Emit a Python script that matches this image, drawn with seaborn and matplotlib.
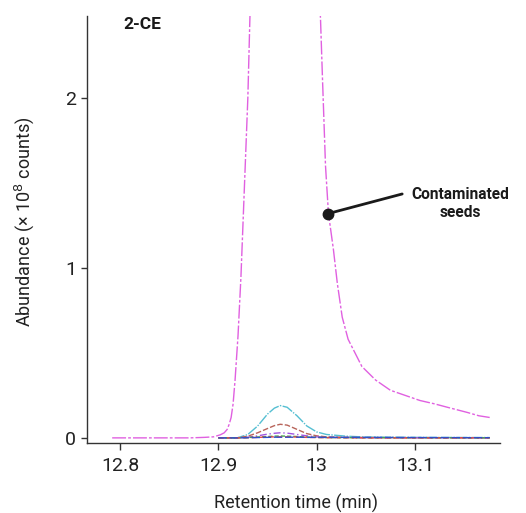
import numpy as np
import pandas as pd
import matplotlib
matplotlib.use("Agg")
import matplotlib.pyplot as plt
import seaborn as sns

# ---- data (retention time in min, abundance in 1e8 counts) ----
mag_x = [12.792, 12.871, 12.886, 12.895, 12.902, 12.906, 12.909, 12.911, 12.913,
         12.915, 12.917, 12.920, 12.923,
         12.926, 12.930, 12.932, 12.945, 12.96, 12.975, 12.99, 13.004, 13.006,
         13.009, 13.012, 13.017, 13.021, 13.026, 13.032, 13.046, 13.060, 13.075,
         13.090, 13.105, 13.120, 13.133, 13.153, 13.165, 13.176]
mag_y = [0.0, 0.0, 0.003, 0.006, 0.018, 0.03, 0.05, 0.08, 0.12,
         0.2, 0.34, 0.6, 0.95,
         1.4, 2.0, 2.45, 5.0, 6.5, 6.0, 4.5, 2.45, 2.1,
         1.6, 1.32, 1.11, 0.91, 0.71, 0.58, 0.42, 0.34, 0.28,
         0.25, 0.22, 0.20, 0.18, 0.15, 0.13, 0.12]

sm_x = [12.90, 12.919, 12.93, 12.94, 12.95, 12.957, 12.963, 12.97, 12.98, 12.99,
        13.00, 13.01, 13.03, 13.05, 13.10, 13.176]
cyan_y = [0.0, 0.0, 0.02, 0.07, 0.14, 0.175, 0.19, 0.18, 0.13, 0.07,
          0.035, 0.02, 0.01, 0.005, 0.003, 0.002]
brown_y = [0.0, 0.0, 0.01, 0.03, 0.055, 0.072, 0.08, 0.075, 0.05, 0.025,
           0.012, 0.006, 0.003, 0.002, 0.001, 0.001]
purple_y = [0.0, 0.0, 0.004, 0.012, 0.022, 0.027, 0.03, 0.028, 0.02, 0.012,
            0.006, 0.003, 0.002, 0.001, 0.001, 0.001]
green_y = [0.0, 0.0, 0.002, 0.005, 0.008, 0.01, 0.011, 0.01, 0.008, 0.005,
           0.003, 0.002, 0.001, 0.001, 0.001, 0.0]
red_y = [0.0, 0.0, 0.001, 0.003, 0.005, 0.006, 0.006, 0.006, 0.005, 0.003,
         0.002, 0.001, 0.001, 0.0, 0.0, 0.0]
blue_y = [0.0, 0.0, 0.001, 0.002, 0.003, 0.004, 0.004, 0.004, 0.004, 0.003,
          0.003, 0.003, 0.003, 0.003, 0.002, 0.001]

series = [
    ("Contaminated seeds", mag_x, mag_y, "#e060e0"),
    ("s2", sm_x, cyan_y, "#55bfd2"),
    ("s3", sm_x, brown_y, "#b8645a"),
    ("s4", sm_x, purple_y, "#a055e0"),
    ("s5", sm_x, green_y, "#3fa84a"),
    ("s6", sm_x, red_y, "#e04848"),
    ("s7", sm_x, blue_y, "#3050c8"),
]

x_ticks = [12.8, 12.9, 13.0, 13.1]
x_labels = ["12.8", "12.9", "13", "13.1"]
y_ticks = [0, 1, 2]
y_labels = ["0", "1", "2"]

sns.set_style("ticks")
plt.rcParams['font.family'] = ['Roboto', 'DejaVu Sans']

fig = plt.figure(figsize=(5.26, 5.13), dpi=100)
ax = fig.add_axes([0.1654, 0.1365, 0.7852, 0.8323])

dash_styles = [(10, 1.5, 2, 1.5), (8, 1, 1, 1), (4, 1.5), (5, 2, 1, 2), (3, 1.5), (4, 2), (6, 2)]
for i, (name, xs, ys, col) in enumerate(series):
    df = pd.DataFrame({"t": xs, "a": ys})
    sns.lineplot(data=df, x="t", y="a", color=col, ax=ax, linewidth=1.0,
                 dashes=False, legend=False)
    ax.lines[-1].set_dashes(dash_styles[i])

ax.set_xlim(12.7664, 13.1865)
ax.set_ylim(-0.03, 2.482)
ax.set_xticks(x_ticks)
ax.set_xticklabels(x_labels)
ax.set_yticks(y_ticks)
ax.set_yticklabels(y_labels)
sns.despine(ax=ax)
for sp in ["left", "bottom"]:
    ax.spines[sp].set_color("#333333")
    ax.spines[sp].set_linewidth(1.0)
ax.tick_params(axis="x", length=5, width=1, color="#333333", labelsize=14,
               labelcolor="#222222", pad=5)
ax.tick_params(axis="y", length=4, width=1, color="#333333", labelsize=14,
               labelcolor="#222222", pad=4)

ax.set_xlabel("")
ax.set_ylabel("")
fig.text(296 / 526, 1 - 503 / 513, "Retention time (min)", fontsize=13,
         color="#222222", ha="center", va="center")
fig.text(24 / 526, 1 - 222 / 513, "Abundance (× 10$^{8}$ counts)", fontsize=13,
         color="#222222", ha="center", va="center", rotation=90)

ax.text(12.803, 2.475, "2-CE", fontsize=12.5, fontweight="bold", color="#1a1a1a",
        ha="left", va="top")

# annotation
ax.plot([13.012], [1.32], marker="o", markersize=7.5, color="#1a1a1a", zorder=5)
ax.annotate("", xy=(13.012, 1.32), xytext=(13.087, 1.435),
            arrowprops=dict(arrowstyle="-", color="#1a1a1a", lw=2.0,
                            shrinkA=0, shrinkB=0))
ax.text(13.146, 1.38, "Contaminated\nseeds", fontsize=11.2, fontweight="bold",
        color="#1a1a1a", ha="center", va="center", linespacing=1.2)

fig.savefig("out.png", dpi=100)
